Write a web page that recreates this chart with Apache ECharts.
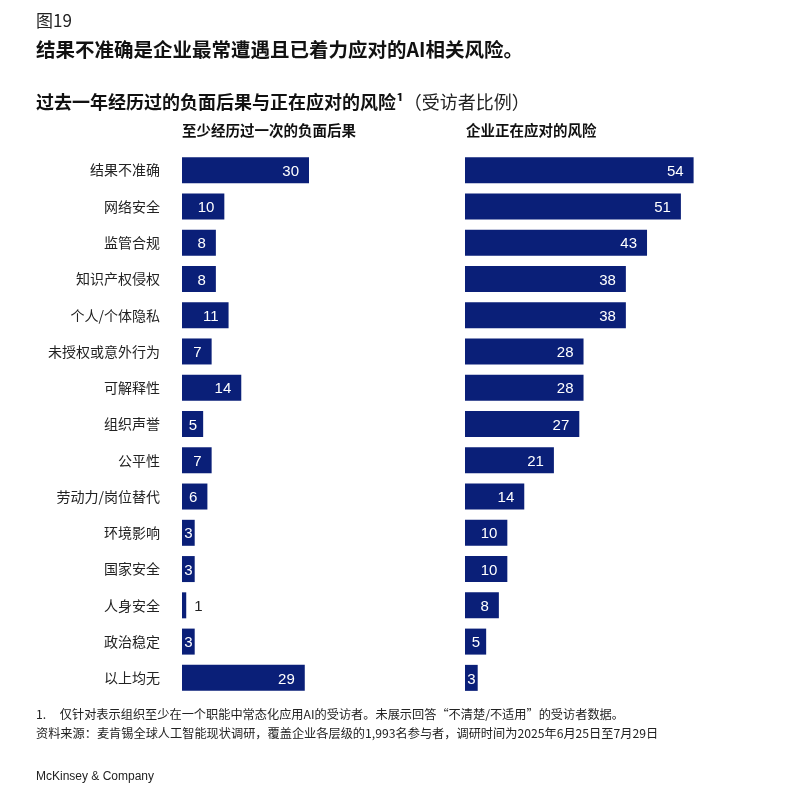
<!DOCTYPE html>
<html>
<head>
<meta charset="utf-8">
<script src="https://cdn.jsdelivr.net/npm/echarts@6/dist/echarts.min.js"></script>
<style>
  html, body { margin: 0; padding: 0; background: #fff; }
  #chart { width: 804px; height: 795px; }
</style>
</head>
<body>
<div id="chart"></div>
<script>
// categories and values
var categories = ['结果不准确', '网络安全', '监管合规', '知识产权侵权', '个人/个体隐私', '未授权或意外行为', '可解释性', '组织声誉', '公平性', '劳动力/岗位替代', '环境影响', '国家安全', '人身安全', '政治稳定', '以上均无'];
var experienced = [30, 10, 8, 8, 11, 7, 14, 5, 7, 6, 3, 3, 1, 3, 29];
var mitigating = [54, 51, 43, 38, 38, 28, 28, 27, 21, 14, 10, 10, 8, 5, 3];

var BLUE = '#0a1f78';
var FONT = '"Noto Sans CJK SC", "Noto Sans", sans-serif';
var LATIN = '"Liberation Sans", Arial, sans-serif';

// label placement depends on bar length
function labelFor(v) {
    if (v <= 1) {
        return {position: 'right', distance: 8, color: '#222'};
    }
    if (v <= 3) {
        return {position: 'insideRight', distance: 2, color: '#fff'};
    }
    if (v <= 5) {
        return {position: 'insideRight', distance: 6, color: '#fff'};
    }
    return {position: 'insideRight', distance: 10, color: '#fff'};
}

function toData(arr) {
    return arr.map(function (v) {
        return {value: v, label: labelFor(v)};
    });
}

var chart = echarts.init(document.getElementById('chart'));

var option = {
    backgroundColor: '#fff',
    animation: false,
    textStyle: {fontFamily: FONT},
    title: [
        {text: '图19', left: 36, top: 12, padding: 0, textStyle: {fontSize: 17, fontWeight: 'normal', color: '#222', fontFamily: FONT}},
        {text: '结果不准确是企业最常遭遇且已着力应对的AI相关风险。', left: 36, top: 40, padding: 0, textStyle: {fontSize: 19.5, fontWeight: 'bold', color: '#111', fontFamily: FONT}},
        {
            text: '{b|过去一年经历过的负面后果与正在应对的风险¹}{n|（受访者比例）}',
            left: 36, top: 93, padding: 0,
            textStyle: {
                fontFamily: FONT,
                rich: {
                    b: {fontSize: 18, fontWeight: 'bold', color: '#111', fontFamily: FONT},
                    n: {fontSize: 18, fontWeight: 'normal', color: '#222', fontFamily: FONT}
                }
            }
        },
        {text: '至少经历过一次的负面后果', left: 182, top: 123, padding: 0, textStyle: {fontSize: 14.5, fontWeight: 'bold', color: '#111', fontFamily: FONT}},
        {text: '企业正在应对的风险', left: 466, top: 123, padding: 0, textStyle: {fontSize: 14.5, fontWeight: 'bold', color: '#111', fontFamily: FONT}},
        {text: '1.     仅针对表示组织至少在一个职能中常态化应用AI的受访者。未展示回答“不清楚/不适用”的受访者数据。', left: 36, top: 708, padding: 0, textStyle: {fontSize: 12.2, fontWeight: 'normal', color: '#222', fontFamily: FONT}},
        {text: '资料来源：麦肯锡全球人工智能现状调研，覆盖企业各层级的1,993名参与者，调研时间为2025年6月25日至7月29日', left: 36, top: 727, padding: 0, textStyle: {fontSize: 12.2, fontWeight: 'normal', color: '#222', fontFamily: FONT}},
        {text: 'McKinsey & Company', left: 36, top: 771, padding: 0, textStyle: {fontSize: 12, fontWeight: 'normal', color: '#222', fontFamily: LATIN}}
    ],
    grid: [
        {left: 182, top: 152, width: 254, height: 544},
        {left: 465, top: 152, width: 254, height: 544}
    ],
    xAxis: [
        {gridIndex: 0, type: 'value', min: 0, max: 60, show: false},
        {gridIndex: 1, type: 'value', min: 0, max: 60, show: false}
    ],
    yAxis: [
        {
            gridIndex: 0, type: 'category', data: categories, inverse: true,
            axisLine: {show: false}, axisTick: {show: false},
            axisLabel: {margin: 22, fontSize: 14, color: '#222', fontFamily: FONT}
        },
        {
            gridIndex: 1, type: 'category', data: categories, inverse: true,
            axisLine: {show: false}, axisTick: {show: false}, axisLabel: {show: false}
        }
    ],
    series: [
        {
            name: '至少经历过一次的负面后果',
            type: 'bar',
            xAxisIndex: 0,
            yAxisIndex: 0,
            barWidth: 26,
            itemStyle: {color: BLUE},
            label: {show: true, fontSize: 15, fontFamily: LATIN, offset: [0, 1.5]},
            data: toData(experienced)
        },
        {
            name: '企业正在应对的风险',
            type: 'bar',
            xAxisIndex: 1,
            yAxisIndex: 1,
            barWidth: 26,
            itemStyle: {color: BLUE},
            label: {show: true, fontSize: 15, fontFamily: LATIN, offset: [0, 1.5]},
            data: toData(mitigating)
        }
    ]
};

chart.setOption(option);
</script>
</body>
</html>
